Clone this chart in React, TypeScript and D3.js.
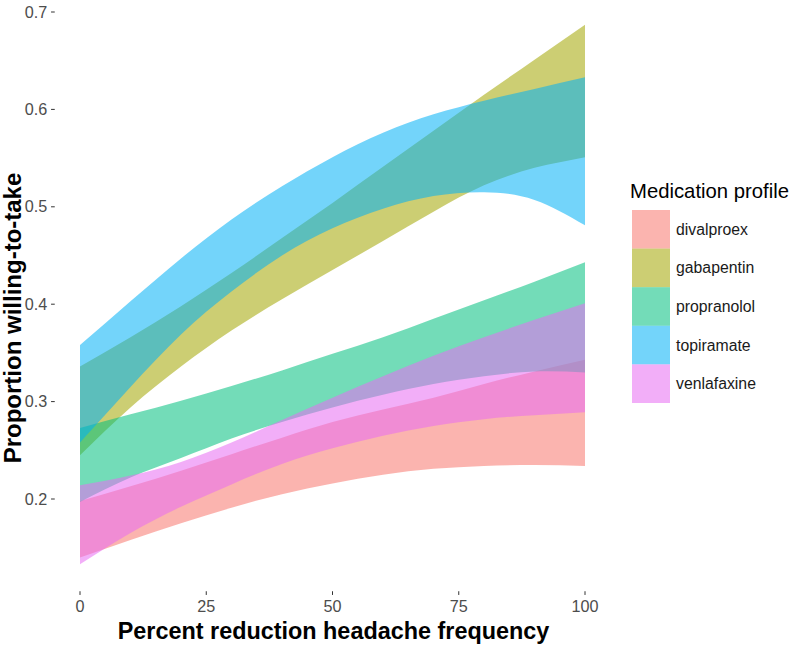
import React from "react";
import * as d3 from "d3";

const xs = [0, 10, 20, 30, 40, 50, 60, 70, 80, 90, 100];

const medications = ["divalproex", "gabapentin", "propranolol", "topiramate", "venlafaxine"];
const colors = ["#F8766D", "#A3A500", "#00BF7D", "#00B0F6", "#E76BF3"];

const divalproexLower = [0.14, 0.158, 0.175, 0.191, 0.205, 0.216, 0.225, 0.231, 0.234, 0.235, 0.234];
const divalproexUpper = [0.198, 0.213, 0.229, 0.246, 0.263, 0.279, 0.292, 0.304, 0.318, 0.331, 0.343];

const gabapentinLower = [0.245, 0.294, 0.336, 0.373, 0.405, 0.435, 0.465, 0.495, 0.522, 0.54, 0.551];
const gabapentinUpper = [0.336, 0.366, 0.398, 0.432, 0.468, 0.504, 0.541, 0.578, 0.615, 0.651, 0.687];

const propranololLower = [0.197, 0.222, 0.242, 0.262, 0.279, 0.294, 0.307, 0.318, 0.326, 0.331, 0.33];
const propranololUpper = [0.273, 0.287, 0.301, 0.316, 0.332, 0.349, 0.366, 0.385, 0.404, 0.423, 0.443];

const topiramateLower = [0.258, 0.315, 0.369, 0.413, 0.45, 0.478, 0.498, 0.511, 0.515, 0.507, 0.481];
const topiramateUpper = [0.358, 0.403, 0.447, 0.487, 0.521, 0.551, 0.576, 0.595, 0.609, 0.621, 0.633];

const venlafaxineLower = [0.133, 0.165, 0.192, 0.215, 0.236, 0.252, 0.265, 0.275, 0.282, 0.286, 0.289];
const venlafaxineUpper = [0.214, 0.224, 0.238, 0.258, 0.281, 0.304, 0.326, 0.347, 0.366, 0.384, 0.401];

const xTicks = [0, 25, 50, 75, 100];
const yTicks = [0.2, 0.3, 0.4, 0.5, 0.6, 0.7];

const bands = [
  { lower: divalproexLower, upper: divalproexUpper },
  { lower: gabapentinLower, upper: gabapentinUpper },
  { lower: propranololLower, upper: propranololUpper },
  { lower: topiramateLower, upper: topiramateUpper },
  { lower: venlafaxineLower, upper: venlafaxineUpper },
];

const FONT = "'Liberation Sans', Arial, Helvetica, sans-serif";

export default function App() {
  const W = 800;
  const H = 652;
  const x = d3.scaleLinear().domain([-5, 105]).range([54.75, 610.25]);
  const y = d3.scaleLinear().domain([0.2, 0.7]).range([499, 12]);
  const panelBottom = y(0.1053);
  const panelLeft = x(-5);
  const alpha = 0.55;

  const area = d3
    .area<number>()
    .x((_, i) => x(xs[i]))
    .curve(d3.curveNatural);

  return (
    <svg
      width={W}
      height={H}
      style={{ position: "absolute", left: 0, top: 0, background: "#fff" }}
      fontFamily={FONT}
    >
      <rect width={W} height={H} fill="#fff" />
      {bands.map((b, k) => {
        const gen = area.y0((_, i) => y(b.lower[i])).y1((_, i) => y(b.upper[i]));
        return (
          <path key={k} d={gen(xs) || ""} fill={colors[k]} fillOpacity={alpha} stroke="none" />
        );
      })}

      {/* y axis */}
      {yTicks.map((t) => (
        <g key={t}>
          <line x1={panelLeft - 3.7} x2={panelLeft} y1={y(t)} y2={y(t)} stroke="#333" strokeWidth={1} />
          <text
            x={panelLeft - 7.5}
            y={y(t)}
            dy="0.35em"
            textAnchor="end"
            fontSize={16.2}
            fill="#4D4D4D"
          >
            {t.toFixed(1)}
          </text>
        </g>
      ))}

      {/* x axis */}
      {xTicks.map((t) => (
        <g key={t}>
          <line x1={x(t)} x2={x(t)} y1={panelBottom} y2={panelBottom + 3.7} stroke="#333" strokeWidth={1} />
          <text x={x(t)} y={panelBottom + 20.5} textAnchor="middle" fontSize={16.2} fill="#4D4D4D">
            {t}
          </text>
        </g>
      ))}

      <text
        x={(x(-5) + x(105)) / 2 + 1}
        y={639}
        textAnchor="middle"
        fontSize={23.4}
        fontWeight="bold"
        fill="#000"
      >
        Percent reduction headache frequency
      </text>
      <text
        transform={`translate(21, 318) rotate(-90)`}
        textAnchor="middle"
        fontSize={24}
        fontWeight="bold"
        fill="#000"
      >
        Proportion willing-to-take
      </text>

      {/* legend */}
      <text x={630} y={198} fontSize={20.3} fill="#000">
        Medication profile
      </text>
      {medications.map((m, k) => (
        <g key={m}>
          <rect x={632} y={210 + k * 38.6} width={38} height={38.6} fill={colors[k]} fillOpacity={alpha} />
          <text x={676} y={210 + k * 38.6 + 19.3} dy="0.35em" fontSize={15.8} fill="#1a1a1a">
            {m}
          </text>
        </g>
      ))}
    </svg>
  );
}
